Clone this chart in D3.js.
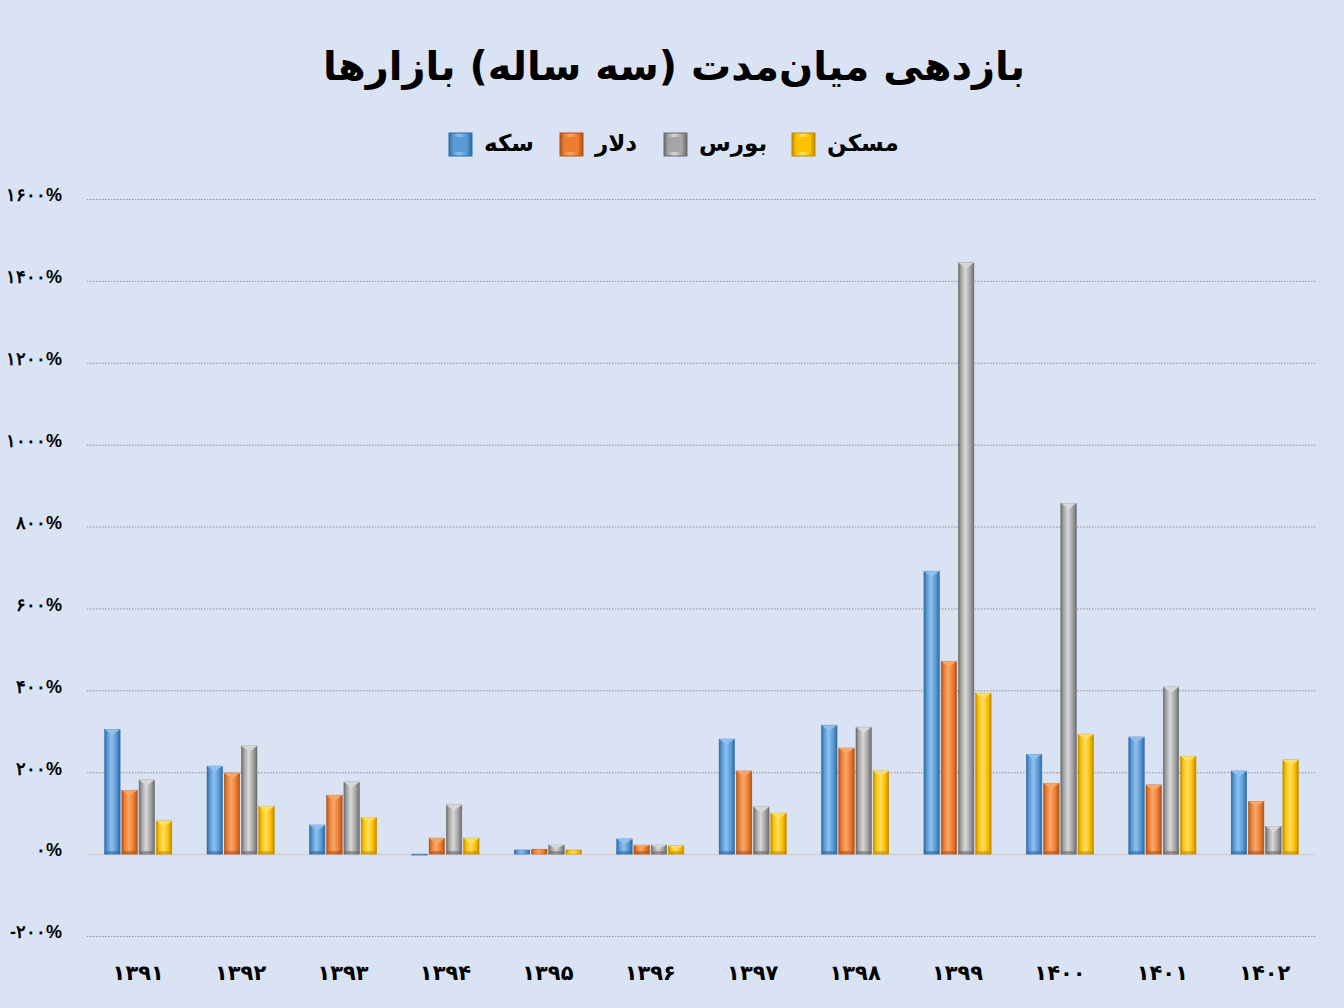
<!DOCTYPE html>
<html>
<head>
<meta charset="utf-8">
<script src="https://cdn.jsdelivr.net/npm/d3@7"></script>
<style>
  body { margin: 0; background: #dae3f3; }
  svg { display: block; font-family: "DejaVu Sans", sans-serif; }
</style>
</head>
<body>
<div id="chart"></div>
<script>
var years = ["1391", "1392", "1393", "1394", "1395", "1396", "1397", "1398", "1399", "1400", "1401", "1402"];
var seriesNames = ["سکه", "دلار", "بورس", "مسکن"];
var coinValues =    [305, 215, 71, -2, 10, 37, 281, 315, 691, 244, 286, 203];
var dollarValues =  [156, 198, 144, 39, 12, 22, 203, 259, 471, 173, 169, 129];
var bourseValues =  [181, 264, 176, 120, 22, 22, 115, 310, 1444, 857, 408, 68];
var housingValues = [81, 117, 90, 39, 10, 20, 100, 203, 393, 293, 239, 230];
var yTicks = [-200, 0, 200, 400, 600, 800, 1000, 1200, 1400, 1600];

var colors = [
  {base: "#5b9bd5", light: "#8fc0ee", dark: "#2f6aa3"},
  {base: "#ed7d31", light: "#f8a86a", dark: "#b0531a"},
  {base: "#a5a5a5", light: "#d8d8d8", dark: "#6b6b6b"},
  {base: "#ffc000", light: "#ffe066", dark: "#c08c00"}
];

var allValues = [coinValues, dollarValues, bourseValues, housingValues];

var width = 1344, height = 1008;
var margin = {top: 199, right: 28, bottom: 72, left: 87};

function fa(s) {
  return String(s).replace(/[0-9]/g, function(d){ return "۰۱۲۳۴۵۶۷۸۹"[+d]; });
}

var svg = d3.select("#chart").append("svg")
  .attr("width", width)
  .attr("height", height);

svg.append("rect").attr("width", width).attr("height", height).attr("fill", "#dae3f3");

var defs = svg.append("defs");
colors.forEach(function(c, i){
  var g = defs.append("linearGradient").attr("id", "grad" + i)
    .attr("x1", "0%").attr("x2", "100%").attr("y1", "0%").attr("y2", "0%");
  g.append("stop").attr("offset", "0%").attr("stop-color", c.dark);
  g.append("stop").attr("offset", "18%").attr("stop-color", c.base);
  g.append("stop").attr("offset", "45%").attr("stop-color", c.light);
  g.append("stop").attr("offset", "75%").attr("stop-color", c.base);
  g.append("stop").attr("offset", "100%").attr("stop-color", c.dark);
});

var x0 = d3.scaleBand().domain(years)
  .range([margin.left, width - margin.right])
  .paddingInner(0.31).paddingOuter(0.155);
var x1 = d3.scaleBand().domain(d3.range(4))
  .range([0, x0.bandwidth()]).padding(0.1);
var y = d3.scaleLinear().domain([-200, 1600])
  .range([936, margin.top]);

// title
svg.append("text")
  .attr("x", width / 2 + 2).attr("y", 80)
  .attr("text-anchor", "middle")
  .attr("direction", "rtl")
  .style("font-size", "40px").style("font-weight", "bold")
  .attr("fill", "#000")
  .text("بازدهی میان‌مدت (سه ساله) بازارها");

// legend
var legendPos = [449, 560, 664, 792];
var legend = svg.append("g").attr("class", "legend");
seriesNames.forEach(function(name, i){
  var lg = legend.append("g").attr("transform", "translate(" + legendPos[i] + ",133)");
  lg.append("rect").attr("width", 23).attr("height", 23)
    .attr("fill", "url(#grad" + i + ")")
    .attr("stroke", colors[i].dark).attr("stroke-width", 1);
  lg.append("rect").attr("x", 4).attr("y", 4).attr("width", 15).attr("height", 15)
    .attr("fill", colors[i].base);
  lg.append("text").attr("x", 35).attr("y", 18)
    .style("font-size", "23px").style("font-weight", "bold")
    .attr("fill", "#000")
    .text(name);
});

// grid
var yAxis = d3.axisLeft(y).tickValues(yTicks)
  .tickSize(-(width - margin.left - margin.right))
  .tickFormat(function(d){ return (d < 0 ? "-" : "") + fa(Math.abs(d)) + "%"; });

var yg = svg.append("g").attr("transform", "translate(" + margin.left + ",0)").call(yAxis);
yg.select(".domain").remove();
yg.selectAll(".tick line")
  .attr("stroke", function(d){ return d === 0 ? "#d0d0d0" : "#8c8c8c"; })
  .attr("stroke-dasharray", function(d){ return d === 0 ? null : "1.5,1.5"; })
  .attr("stroke-width", function(d){ return d === 0 ? 1.5 : 1; });
yg.selectAll(".tick text")
  .attr("x", -25).attr("dy", "0.1em")
  .style("font-size", "18px").style("font-weight", "bold")
  .attr("fill", "#000");

// bars
var groups = svg.append("g").selectAll("g")
  .data(years).enter().append("g")
  .attr("transform", function(d){ return "translate(" + x0(d) + ",0)"; });

groups.each(function(year, yi){
  var g = d3.select(this);
  allValues.forEach(function(vals, si){
    var v = vals[yi];
    var bx = x1(si), bw = x1.bandwidth();
    var top = y(Math.max(v, 0)), bottom = y(Math.min(v, 0));
    var h = Math.max(bottom - top, 1);
    g.append("rect")
      .attr("x", bx).attr("y", top)
      .attr("width", bw).attr("height", h)
      .attr("fill", "url(#grad" + si + ")")
      .attr("stroke", colors[si].dark).attr("stroke-width", 0.5);
    if (h > 6) {
      var bev = Math.min(bw / 2, h / 2);
      g.append("path")
        .attr("d", "M" + bx + "," + top + "L" + (bx + bw) + "," + top +
                   "L" + (bx + bw / 2) + "," + (top + bev * 0.75) + "Z")
        .attr("fill", colors[si].light).attr("opacity", 0.95);
      g.append("rect")
        .attr("x", bx).attr("y", top + h - 3)
        .attr("width", bw).attr("height", 3)
        .attr("fill", colors[si].dark).attr("opacity", 0.6);
    }
  });
});

// x labels
svg.append("g").selectAll("text")
  .data(years).enter().append("text")
  .attr("x", function(d){ return x0(d) + x0.bandwidth() / 2; })
  .attr("y", 980)
  .attr("text-anchor", "middle")
  .style("font-size", "21px").style("font-weight", "bold")
  .attr("fill", "#000")
  .text(function(d){ return fa(d); });
</script>
</body>
</html>
